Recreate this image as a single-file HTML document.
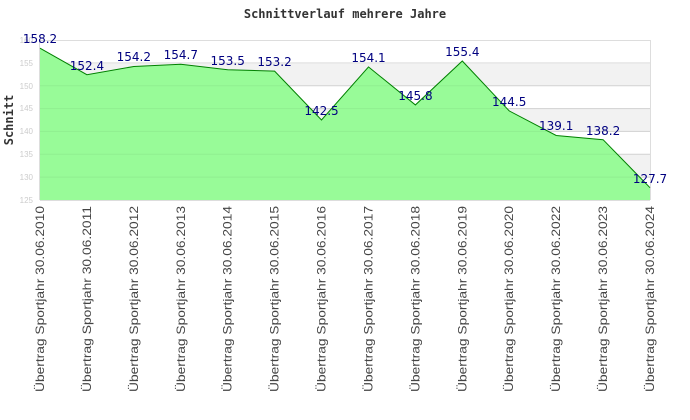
<!DOCTYPE html>
<html><head><meta charset="utf-8"><style>body{margin:0;background:#fff}svg{display:block}</style></head><body>
<svg width="690" height="420" xmlns="http://www.w3.org/2000/svg" font-family="Liberation Sans, sans-serif">
<text x="345" y="18" text-anchor="middle" font-family="DejaVu Sans Mono, monospace" font-weight="bold" font-size="12" fill="#333">Schnittverlauf mehrere Jahre</text>
<rect x="40" y="40" width="610" height="160" fill="#fff"/>
<rect x="40" y="62.9" width="610" height="22.9" fill="#f2f2f2"/>
<rect x="40" y="108.6" width="610" height="22.9" fill="#f2f2f2"/>
<rect x="40" y="154.3" width="610" height="22.9" fill="#f2f2f2"/>
<g stroke="#ddd" stroke-width="1">
<line x1="40" y1="40.5" x2="650" y2="40.5"/><line x1="40" y1="62.9" x2="650" y2="62.9"/><line x1="40" y1="85.7" x2="650" y2="85.7"/><line x1="40" y1="108.6" x2="650" y2="108.6"/><line x1="40" y1="131.4" x2="650" y2="131.4"/><line x1="40" y1="154.3" x2="650" y2="154.3"/><line x1="40" y1="177.1" x2="650" y2="177.1"/>
<line x1="650.5" y1="40" x2="650.5" y2="200"/><line x1="39.5" y1="40" x2="39.5" y2="200"/><line x1="40" y1="200.5" x2="650" y2="200.5"/>
</g>
<polygon fill="#98fb98" points="40,200 40,48.2 86.9,74.7 133.8,66.5 180.8,64.2 227.7,69.7 274.6,71.1 321.5,120 368.5,66.9 415.4,104.9 462.3,61 509.2,110.9 556.2,135.5 603.1,139.7 650,187.7 650,200"/>
<polyline fill="none" stroke="#008000" stroke-width="1" points="40,48.2 86.9,74.7 133.8,66.5 180.8,64.2 227.7,69.7 274.6,71.1 321.5,120 368.5,66.9 415.4,104.9 462.3,61 509.2,110.9 556.2,135.5 603.1,139.7 650,187.7"/>
<g stroke="#000" stroke-opacity="0.05"><line x1="40" y1="85.7" x2="650" y2="85.7"/><line x1="40" y1="108.6" x2="650" y2="108.6"/><line x1="40" y1="131.4" x2="650" y2="131.4"/><line x1="40" y1="154.3" x2="650" y2="154.3"/><line x1="40" y1="177.1" x2="650" y2="177.1"/></g>
<g font-size="8" fill="#ccc" text-anchor="end">
<text x="33" y="43">160</text><text x="33" y="66">155</text><text x="33" y="89">150</text><text x="33" y="111">145</text><text x="33" y="134">140</text><text x="33" y="157">135</text><text x="33" y="180">130</text><text x="33" y="203">125</text>
</g>
<text transform="translate(13,120) rotate(-90)" text-anchor="middle" font-family="DejaVu Sans Mono, monospace" font-weight="bold" font-size="12" fill="#333">Schnitt</text>
<g font-size="12" font-family="DejaVu Sans, sans-serif" fill="#000080" text-anchor="middle">
<text x="40" y="43">158.2</text><text x="86.9" y="70">152.4</text><text x="133.8" y="61">154.2</text><text x="180.8" y="59">154.7</text><text x="227.7" y="65">153.5</text><text x="274.6" y="66">153.2</text><text x="321.5" y="115">142.5</text><text x="368.5" y="62">154.1</text><text x="415.4" y="100">145.8</text><text x="462.3" y="56">155.4</text><text x="509.2" y="106">144.5</text><text x="556.2" y="130">139.1</text><text x="603.1" y="135">138.2</text><text x="650" y="183">127.7</text>
</g>
<g font-size="12" fill="#444" text-anchor="end">
<text transform="translate(44,206) rotate(-90)" textLength="186" lengthAdjust="spacingAndGlyphs">Übertrag Sportjahr 30.06.2010</text>
<text transform="translate(90.9,206) rotate(-90)" textLength="186" lengthAdjust="spacingAndGlyphs">Übertrag Sportjahr 30.06.2011</text>
<text transform="translate(137.8,206) rotate(-90)" textLength="186" lengthAdjust="spacingAndGlyphs">Übertrag Sportjahr 30.06.2012</text>
<text transform="translate(184.8,206) rotate(-90)" textLength="186" lengthAdjust="spacingAndGlyphs">Übertrag Sportjahr 30.06.2013</text>
<text transform="translate(231.7,206) rotate(-90)" textLength="186" lengthAdjust="spacingAndGlyphs">Übertrag Sportjahr 30.06.2014</text>
<text transform="translate(278.6,206) rotate(-90)" textLength="186" lengthAdjust="spacingAndGlyphs">Übertrag Sportjahr 30.06.2015</text>
<text transform="translate(325.5,206) rotate(-90)" textLength="186" lengthAdjust="spacingAndGlyphs">Übertrag Sportjahr 30.06.2016</text>
<text transform="translate(372.5,206) rotate(-90)" textLength="186" lengthAdjust="spacingAndGlyphs">Übertrag Sportjahr 30.06.2017</text>
<text transform="translate(419.4,206) rotate(-90)" textLength="186" lengthAdjust="spacingAndGlyphs">Übertrag Sportjahr 30.06.2018</text>
<text transform="translate(466.3,206) rotate(-90)" textLength="186" lengthAdjust="spacingAndGlyphs">Übertrag Sportjahr 30.06.2019</text>
<text transform="translate(513.2,206) rotate(-90)" textLength="186" lengthAdjust="spacingAndGlyphs">Übertrag Sportjahr 30.06.2020</text>
<text transform="translate(560.2,206) rotate(-90)" textLength="186" lengthAdjust="spacingAndGlyphs">Übertrag Sportjahr 30.06.2022</text>
<text transform="translate(607.1,206) rotate(-90)" textLength="186" lengthAdjust="spacingAndGlyphs">Übertrag Sportjahr 30.06.2023</text>
<text transform="translate(654,206) rotate(-90)" textLength="186" lengthAdjust="spacingAndGlyphs">Übertrag Sportjahr 30.06.2024</text>
</g>
</svg>
</body></html>
